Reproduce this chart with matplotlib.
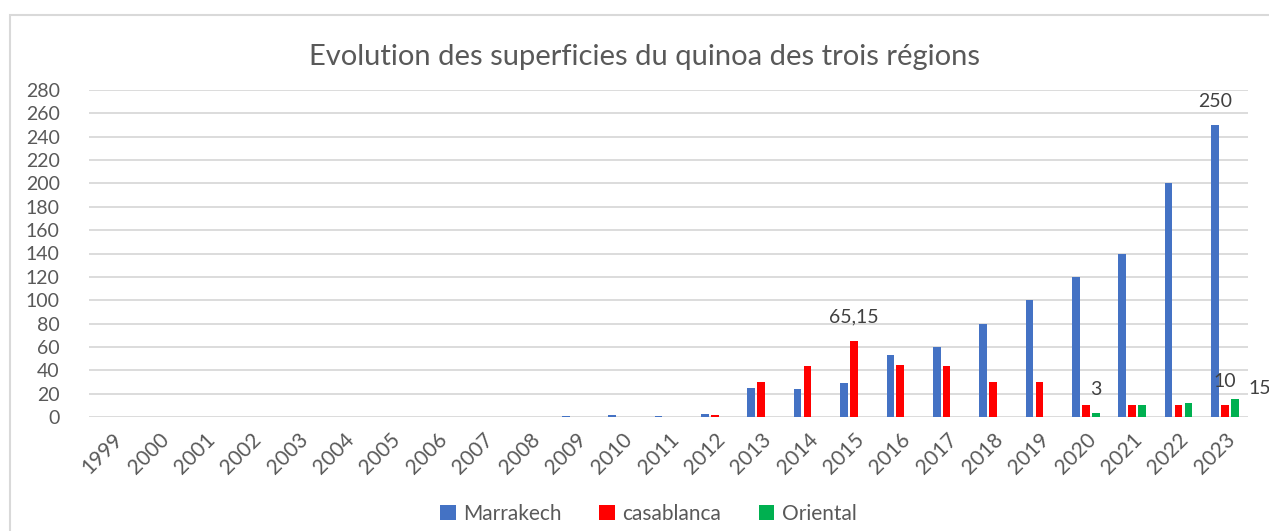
import matplotlib.pyplot as plt
from matplotlib.patches import Rectangle
import numpy as np

years = [str(y) for y in range(1999, 2024)]
marrakech = [0, 0, 0, 0, 0, 0, 0, 0, 0, 0, 0.5, 1.5, 0.5, 2.5,
             25, 24, 29, 53, 60, 80, 100, 120, 140, 200, 250]
casablanca = [0, 0, 0, 0, 0, 0, 0, 0, 0, 0, 0, 0, 0, 1.5,
              30, 44, 65.15, 44.5, 44, 30, 30, 10, 10, 10, 10]
oriental = [0, 0, 0, 0, 0, 0, 0, 0, 0, 0, 0, 0, 0, 0,
            0, 0, 0, 0, 0, 0, 0, 3, 10, 12, 15]

txt = '#595959'
plt.rcParams['font.family'] = ['Lato', 'DejaVu Sans']

fig = plt.figure(figsize=(12.69, 5.31), dpi=100)
# outer chart border
fig.patches.append(Rectangle((10 / 1269, -0.1), 1.2, (531 - 15) / 531 + 0.1,
                             transform=fig.transFigure, fill=False,
                             edgecolor='#d9d9d9', linewidth=1.5))

ax = fig.add_axes([89 / 1269, (531 - 417) / 531, (1248 - 89) / 1269, (417 - 90) / 531])
x = np.arange(len(years))
w = 0.165
step = 0.215
ax.bar(x - step, marrakech, w, color='#4472C4', label='Marrakech')
ax.bar(x, casablanca, w, color='#FF0000', label='casablanca')
ax.bar(x + step, oriental, w, color='#00B050', label='Oriental')

ax.set_xlim(-0.5, len(years) - 0.5)
ax.set_ylim(0, 280)
ax.set_yticks(range(0, 281, 20))
ax.set_xticks(x)
ax.set_xticklabels(years, rotation=45, ha='right', rotation_mode='anchor')
ax.tick_params(axis='both', length=0, colors=txt)
ax.tick_params(axis='y', pad=21, labelsize=14)
ax.tick_params(axis='x', pad=9, labelsize=15)
ax.grid(axis='y', color='#d9d9d9', linewidth=1.3)
ax.set_axisbelow(True)
for s in ax.spines.values():
    s.set_visible(False)

lab_kw = dict(textcoords='offset points', ha='center', va='bottom', fontsize=14, color='#404040')
i15, i20, i23 = years.index('2015'), years.index('2020'), years.index('2023')
ax.annotate('65,15', (x[i15], casablanca[i15]), xytext=(0, 11), **lab_kw)
ax.annotate('3', (x[i20] + step, oriental[i20]), xytext=(0, 11), **lab_kw)
ax.annotate('10', (x[i23], casablanca[i23]), xytext=(0, 11), **lab_kw)
ax.annotate('250', (x[i23] - step, marrakech[i23]), xytext=(0, 11), **lab_kw)
ax.annotate('15', (x[i23] + step, oriental[i23]), xytext=(18, 2), **lab_kw)

fig.text(0.508, 0.893, 'Evolution des superficies du quinoa des trois régions',
         ha='center', va='center', fontsize=21, color=txt)

fig.legend(loc='center', bbox_to_anchor=(0.511, 1 - 514 / 531), ncol=3, frameon=False,
           fontsize=15, labelcolor=txt, handlelength=0.75, handleheight=0.75,
           handletextpad=0.35, columnspacing=1.8)

fig.savefig('out.png', dpi=100)
